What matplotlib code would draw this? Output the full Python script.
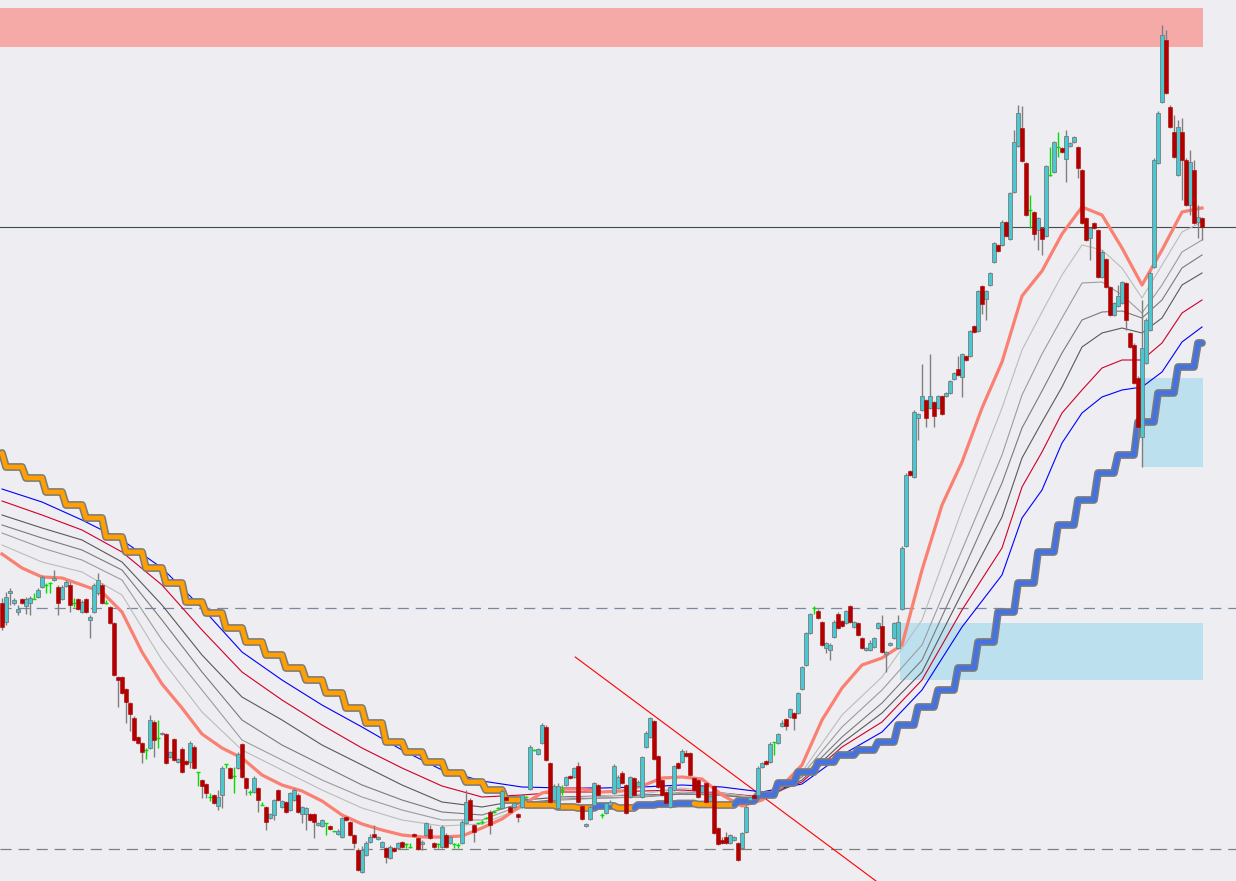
import numpy as np
import matplotlib.pyplot as plt

plt.rcParams['lines.scale_dashes'] = False

# candle data, one value per bar (price units)
opens = [
    397, 378, 407, 397, 388, 401, 394, 397, 401, 403,
    413, 415, 417, 420, 413, 401, 414, 415, 397, 401,
    388, 401, 380, 388, 407, 415, 397, 393, 377, 323,
    323, 311, 297, 282, 263, 257, 250, 252, 278, 262,
    266, 266, 243, 261, 238, 251, 239, 238, 253, 228,
    220, 216, 203, 205, 194, 205, 236, 232, 224, 232,
    256, 222, 208, 208, 212, 195, 193, 182, 185, 210,
    193, 198, 190, 200, 205, 186, 186, 186, 186, 175,
    174, 177, 174, 169, 166, 163, 183, 178, 165, 150,
    128, 145, 158, 166, 161, 153, 152, 142, 152, 152,
    158, 156, 153, 166, 162, 156, 165, 171, 157, 156,
    153, 165, 157, 156, 155, 157, 177, 200, 175, 177,
    178, 182, 188, 188, 192, 192, 203, 193, 193, 186,
    193, 203, 211, 250, 246, 257, 273, 237, 200, 192,
    210, 215, 224, 223, 234, 194, 174, 181, 195, 215,
    185, 187, 195, 207, 212, 227, 215, 203, 222, 214,
    203, 253, 263, 279, 244, 220, 208, 193, 210, 237,
    238, 247, 247, 222, 220, 208, 217, 199, 214, 172,
    160, 163, 157, 160, 157, 152, 168, 200, 205, 205,
    233, 239, 238, 258, 257, 274, 281, 283, 287, 287,
    311, 335, 367, 392, 389, 378, 352, 350, 363, 386,
    379, 377, 394, 373, 377, 362, 350, 350, 353, 372,
    374, 346, 355, 362, 352, 391, 454, 529, 523, 582,
    590, 600, 592, 598, 592, 604, 604, 607, 621, 631,
    623, 644, 644, 674, 669, 714, 701, 715, 738, 755,
    755, 778, 761, 808, 854, 872, 837, 790, 788, 770,
    772, 764, 825, 828, 853, 852, 841, 854, 858, 853,
    830, 782, 762, 777, 770, 723, 741, 713, 685, 694,
    697, 717, 667, 655, 622, 563, 637, 670, 733, 837,
    898, 960, 893, 868, 825, 868, 840, 795, 830, 778,
    782,
]
highs = [
    402, 408, 412, 402, 395, 402, 403, 404, 407, 412,
    425, 417, 418, 430, 415, 415, 420, 418, 402, 402,
    400, 402, 385, 417, 427, 417, 400, 394, 378, 324,
    324, 312, 298, 284, 264, 258, 252, 285, 280, 280,
    268, 267, 249, 262, 242, 253, 240, 259, 255, 228,
    221, 217, 207, 206, 210, 234, 236, 233, 233, 248,
    257, 223, 210, 224, 213, 198, 194, 187, 201, 211,
    200, 199, 208, 212, 207, 194, 193, 187, 187, 178,
    181, 177, 175, 169, 171, 183, 184, 179, 166, 152,
    154, 159, 166, 175, 164, 159, 153, 155, 153, 158,
    159, 157, 157, 167, 163, 160, 178, 175, 158, 157,
    175, 167, 164, 157, 157, 180, 210, 202, 176, 178,
    180, 183, 190, 190, 193, 211, 204, 194, 198, 187,
    206, 204, 255, 251, 252, 277, 275, 238, 216, 217,
    215, 224, 225, 233, 238, 195, 177, 194, 218, 216,
    187, 198, 200, 236, 225, 229, 216, 224, 223, 220,
    244, 269, 283, 280, 245, 221, 209, 214, 235, 238,
    251, 250, 248, 223, 221, 215, 218, 205, 215, 173,
    163, 168, 166, 164, 158, 168, 195, 204, 206, 234,
    238, 240, 258, 258, 267, 280, 282, 292, 288, 308,
    334, 368, 387, 394, 391, 379, 358, 357, 380, 388,
    380, 390, 395, 379, 378, 363, 353, 360, 363, 378,
    385, 349, 358, 378, 385, 454, 527, 530, 590, 587,
    636, 601, 646, 599, 605, 605, 608, 620, 628, 644,
    647, 645, 670, 675, 710, 715, 710, 728, 758, 756,
    780, 779, 808, 870, 895, 894, 838, 805, 789, 783,
    773, 835, 853, 859, 868, 853, 870, 858, 864, 854,
    831, 783, 773, 778, 771, 750, 742, 714, 698, 715,
    719, 718, 668, 657, 624, 700, 682, 729, 842, 889,
    975, 970, 895, 885, 880, 882, 842, 850, 840, 795,
    783,
]
lows = [
    370, 375, 395, 395, 385, 396, 386, 385, 401, 402,
    412, 407, 407, 419, 385, 400, 413, 388, 393, 390,
    387, 387, 362, 387, 405, 396, 396, 376, 324, 293,
    306, 277, 269, 259, 256, 237, 241, 251, 243, 252,
    265, 236, 242, 239, 237, 227, 235, 232, 231, 214,
    202, 202, 199, 196, 190, 192, 232, 221, 207, 231,
    222, 205, 205, 207, 188, 195, 170, 181, 180, 199,
    192, 187, 189, 199, 187, 177, 170, 179, 162, 174,
    173, 165, 170, 168, 165, 162, 179, 164, 152, 129,
    127, 144, 157, 162, 160, 152, 137, 141, 148, 151,
    152, 152, 152, 163, 150, 150, 164, 161, 152, 152,
    152, 152, 156, 152, 152, 156, 176, 179, 158, 176,
    176, 181, 166, 187, 191, 191, 199, 187, 192, 178,
    192, 202, 210, 249, 245, 256, 239, 197, 199, 191,
    205, 214, 221, 222, 197, 180, 173, 180, 194, 204,
    182, 186, 194, 206, 211, 216, 186, 202, 204, 213,
    202, 252, 262, 240, 212, 204, 196, 192, 209, 231,
    237, 243, 224, 209, 202, 207, 197, 198, 166, 155,
    156, 156, 156, 159, 139, 151, 167, 199, 201, 204,
    232, 235, 237, 245, 256, 273, 270, 282, 270, 286,
    310, 334, 366, 386, 381, 354, 347, 340, 362, 371,
    373, 376, 377, 372, 364, 351, 349, 349, 352, 371,
    347, 328, 354, 361, 351, 390, 453, 524, 522, 560,
    589, 573, 591, 573, 591, 585, 603, 606, 620, 624,
    603, 639, 643, 667, 668, 686, 680, 714, 737, 748,
    754, 763, 760, 807, 853, 838, 784, 772, 760, 750,
    745, 763, 824, 827, 843, 847, 818, 853, 857, 822,
    776, 759, 740, 771, 722, 722, 712, 684, 684, 693,
    696, 670, 652, 616, 560, 533, 636, 669, 732, 836,
    897, 906, 872, 842, 824, 800, 794, 785, 776, 762,
    760,
]
closes = [
    373, 403, 409, 400, 391, 397, 401, 402, 401, 410,
    423, 415, 417, 422, 397, 413, 418, 395, 397, 391,
    398, 388, 383, 415, 420, 397, 397, 377, 325, 320,
    307, 298, 286, 260, 257, 248, 250, 280, 260, 262,
    267, 237, 248, 240, 241, 228, 236, 257, 232, 228,
    214, 207, 203, 197, 203, 232, 236, 222, 224, 246,
    223, 212, 208, 222, 200, 195, 178, 186, 200, 200,
    199, 188, 207, 210, 188, 193, 192, 180, 178, 177,
    180, 177, 171, 169, 169, 182, 180, 165, 157, 130,
    150, 157, 163, 163, 163, 158, 143, 153, 149, 157,
    153, 156, 153, 164, 151, 158, 177, 162, 153, 156,
    173, 153, 163, 156, 155, 178, 198, 180, 168, 177,
    178, 182, 175, 188, 192, 209, 200, 188, 197, 183,
    205, 203, 253, 250, 251, 275, 240, 198, 214, 214,
    210, 223, 222, 232, 198, 181, 176, 193, 217, 205,
    185, 197, 198, 234, 223, 217, 187, 223, 205, 218,
    243, 267, 282, 241, 213, 205, 197, 213, 234, 232,
    249, 244, 225, 210, 203, 214, 198, 204, 167, 156,
    157, 157, 165, 163, 140, 167, 193, 203, 202, 232,
    237, 236, 256, 258, 266, 277, 274, 291, 282, 307,
    333, 367, 386, 392, 382, 355, 357, 355, 378, 372,
    374, 389, 378, 378, 365, 352, 352, 357, 362, 377,
    348, 348, 357, 377, 378, 452, 525, 525, 588, 586,
    604, 582, 604, 584, 604, 586, 607, 619, 627, 625,
    646, 640, 669, 668, 709, 696, 709, 727, 757, 749,
    778, 764, 807, 858, 887, 839, 785, 790, 766, 782,
    761, 834, 825, 858, 853, 848, 864, 857, 863, 832,
    777, 760, 772, 772, 723, 748, 713, 685, 697, 704,
    718, 680, 653, 617, 573, 652, 680, 727, 840, 887,
    965, 907, 873, 843, 873, 840, 795, 838, 777, 783,
    773,
]

# fast moving average, read every 5 bars
ma_fast_idx = list(range(0, 301, 5))
ma_fast = [446, 432, 423, 422, 415, 408, 388, 348, 316, 292,
           266, 252, 242, 225, 215, 209, 199, 185, 176, 170,
           165, 163, 163, 164, 172, 181, 195, 207, 211, 211,
           208, 209, 214, 222, 223, 221, 205, 194, 200, 214,
           235, 280, 312, 335, 342, 355, 430, 495, 538, 592,
           638, 704, 729, 766, 793, 785, 752, 715, 750, 788, 792]

# slower averages, read every 10 bars, every 5 on the right
ma_slow_idx = list(range(0, 250, 10)) + list(range(250, 301, 5))
ma_g1 = [455, 438, 428, 405, 340, 288, 250, 230, 210, 192, 180, 174, 176, 192, 202, 204,
         206, 212, 207, 202, 228, 285, 323, 380, 490,
         592, 650, 688, 725, 755, 750, 732, 702, 735, 768, 778]
ma_g2 = [467, 452, 440, 420, 360, 310, 260, 240, 220, 203, 190, 180, 180, 195, 200, 202,
         203, 208, 206, 202, 225, 273, 310, 355, 450,
         545, 605, 646, 682, 717, 718, 705, 687, 715, 748, 760]
ma_g3 = [475, 462, 450, 430, 380, 328, 280, 255, 235, 215, 200, 188, 185, 197, 201, 202,
         203, 206, 205, 201, 223, 263, 297, 340, 427,
         517, 572, 609, 647, 680, 688, 689, 682, 700, 732, 745]
ma_g4 = [485, 472, 460, 438, 395, 345, 303, 280, 255, 235, 215, 198, 193, 200, 203, 204,
         205, 206, 205, 200, 220, 257, 287, 328, 407,
         483, 542, 578, 613, 653, 667, 672, 667, 682, 715, 727]
ma_red = [499, 485, 470, 448, 415, 370, 328, 300, 275, 252, 232, 214, 203, 205, 208, 208,
          209, 210, 207, 203, 218, 253, 278, 320, 390,
          452, 513, 548, 587, 610, 632, 640, 640, 657, 687, 700]
ma_blue = [511, 498, 480, 460, 432, 392, 348, 320, 295, 273, 250, 230, 219, 213, 212, 212,
           213, 215, 213, 208, 216, 245, 268, 310, 373,
           425, 482, 510, 557, 587, 603, 610, 613, 628, 658, 673]

# higher timeframe average: one value per block of bars
step_vals = [547, 533, 522, 508, 495, 482, 463, 448, 432, 417, 398, 387, 372, 358, 345,
             332, 320, 307, 292, 277, 258, 248, 238, 227, 218, 210, 200, 195, 193, 192,
             194, 192, 195, 196, 196.5, 195.5, 195, 199, 205, 217, 228, 238, 245, 250,
             258, 275, 293, 310, 332, 358, 388, 417, 448, 475, 500, 527, 545, 578, 607,
             633, 657]
step_len = [1] + [5] * 26 + [8] + [5] * 32 + [2]

# zones (bar from, bar to, price low, price high)
zone_sell = (-0.5, 300.25, 953, 992)
zone_buy1 = (224.5, 300.25, 320, 377)
zone_buy2 = (285.25, 300.25, 533, 622)
level_solid = 773
levels_dashed = [392, 151]
trend_x = [143.3, 218.5]
trend_y = [343, 119]

bg = '#eeedf1'
fig = plt.figure(figsize=(12.36, 8.81), dpi=100, facecolor=bg)
ax = fig.add_axes([0, 0, 1, 1])
ax.set_xlim(-0.5, 308.5)
ax.set_ylim(119, 1000)
ax.axis('off')

for (x0, x1, y0, y1), col in [(zone_sell, '#f5aaa8'), (zone_buy1, '#bde0ef'), (zone_buy2, '#bde0ef')]:
    ax.fill_between([x0, x1], y0, y1, color=col, lw=0, zorder=0.5)

ax.axhline(level_solid, color='#3e4e4e', lw=0.8, zorder=1)
ax.axhline(levels_dashed[0], color='#7888a0', lw=0.9, dashes=(8, 5), zorder=1)
ax.axhline(levels_dashed[1], color='#808080', lw=0.9, dashes=(8, 5), zorder=1)
ax.plot(trend_x, trend_y, color='#ff0000', lw=0.8, zorder=1.2)

# moving averages
ax.plot(ma_slow_idx, ma_blue, color='#0000ff', lw=0.8, zorder=2)
ax.plot(ma_slow_idx, ma_red, color='#d0002a', lw=0.8, zorder=2)
ax.plot(ma_slow_idx, ma_g4, color='#5a5a5a', lw=0.8, zorder=2)
ax.plot(ma_slow_idx, ma_g3, color='#7a7a7a', lw=0.8, zorder=2)
ax.plot(ma_slow_idx, ma_g2, color='#9c9c9c', lw=0.8, zorder=2)
ax.plot(ma_slow_idx, ma_g1, color='#bcbcbc', lw=0.8, zorder=2)
ax.plot(ma_fast_idx, ma_fast, color='#fa8072', lw=2.3, zorder=2.1)

# stepped line: gray outline, then orange (falling) / blue (rising) pieces
step_series = np.repeat(step_vals, step_len)
bars = np.arange(len(step_series))
ax.plot(bars, step_series, color='#7c7c7c', lw=5.6, solid_joinstyle='round',
        solid_capstyle='round', zorder=2.4)
ends = np.cumsum(step_len)
for b in range(len(step_vals)):
    start = 0 if b == 0 else ends[b - 1] - 1
    rising = b > 0 and step_vals[b] > step_vals[b - 1]
    col = '#4472e0' if rising else '#ffa000'
    seg = slice(start, ends[b])
    ax.plot(bars[seg], step_series[seg], color=col, lw=3.3, solid_joinstyle='round',
            solid_capstyle='round', zorder=2.5)

# candles
o = np.array(opens, float)
h = np.array(highs, float)
l = np.array(lows, float)
c = np.array(closes, float)
x = np.arange(len(o))
doji = o == c
up = (c > o) & ~doji
dn = (c < o) & ~doji

ax.vlines(x[~doji], l[~doji], h[~doji], color='#7f7f7f', lw=1.0, zorder=3)
ax.vlines(x[doji], l[doji], h[doji], color='#00e000', lw=1.0, zorder=3)
ax.hlines(o[doji], x[doji] - 0.4, x[doji] + 0.4, color='#00e000', lw=1.0, zorder=3)

body_lo = np.minimum(o, c)
body_h = np.maximum(np.abs(c - o), 1.5)
ax.bar(x[up], body_h[up], bottom=body_lo[up], width=0.78, color='#48c8d2',
       edgecolor='#7a7a7a', linewidth=0.6, zorder=3.1)
ax.bar(x[dn], body_h[dn], bottom=body_lo[dn], width=0.78, color='#b00000',
       edgecolor='#b00000', linewidth=0.4, zorder=3.1)

fig.savefig('out.png', dpi=100, facecolor=bg)
